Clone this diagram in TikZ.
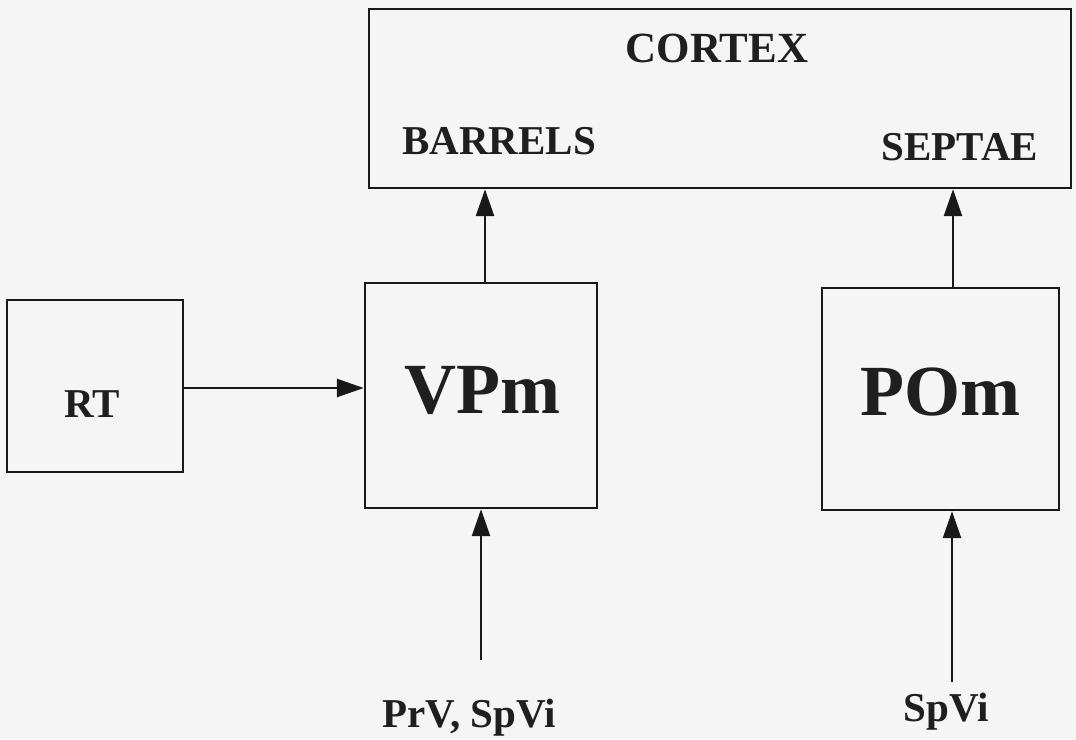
\documentclass[tikz,border=0pt]{standalone}
\usepackage{fontspec}
\setmainfont{Liberation Serif}
\usetikzlibrary{arrows.meta,calc}
\tikzset{
  box/.style={draw=black!90, line width=2.4pt, inner sep=0pt},
  lbl/.style={font=\bfseries\fontsize{41}{45}\selectfont, text=black!88, inner sep=0pt, anchor=base},
  big/.style={font=\bfseries\fontsize{72}{76}\selectfont, text=black!88, inner sep=0pt, anchor=base},
  arr/.style={draw=black!90, line width=2.4pt, -{Triangle[length=27pt,width=18pt]}},
}
\begin{document}
\begin{tikzpicture}[x=1pt,y=-1pt]
\fill[black!4] (0,0) rectangle (1076,739);
\useasboundingbox (0,0) rectangle (1076,739);
% boxes
\node[box, minimum width=702pt, minimum height=179pt] (cortex) at (720,98.5) {};
\node[box, minimum width=176pt, minimum height=172pt] (rt) at (95,386) {};
\node[box, minimum width=232pt, minimum height=225pt] (vpm) at (481,395.5) {};
\node[box, minimum width=237pt, minimum height=222pt] (pom) at (940.5,399) {};
% texts
\node[lbl, font=\bfseries\fontsize{43}{47}\selectfont] (ctx) at (717,62) {CORTEX};
\node[lbl] (barrels) at (499,154) {BARRELS};
\node[lbl] (septae) at (960,160) {SEPTAE};
\node[lbl] (rtl) at (92,417) {RT};
\node[big] (vpml) at (482,413) {VPm};
\node[big] (poml) at (940,415) {POm};
\node[lbl] (prv) at (469,727) {PrV, SpVi};
\node[lbl] (spvi) at (946,721) {SpVi};
% connectors
\coordinate (inV) at (481,660);
\coordinate (inP) at (952,682);
\draw[arr] (rt.east |- 0,388) -- (vpm.west |- 0,388);
\draw[arr] (485,0 |- vpm.north) -- (485,0 |- cortex.south);
\draw[arr] (953,0 |- pom.north) -- (953,0 |- cortex.south);
\draw[arr] (inV) -- (inV |- vpm.south);
\draw[arr] (inP) -- (inP |- pom.south);
\end{tikzpicture}
\end{document}
